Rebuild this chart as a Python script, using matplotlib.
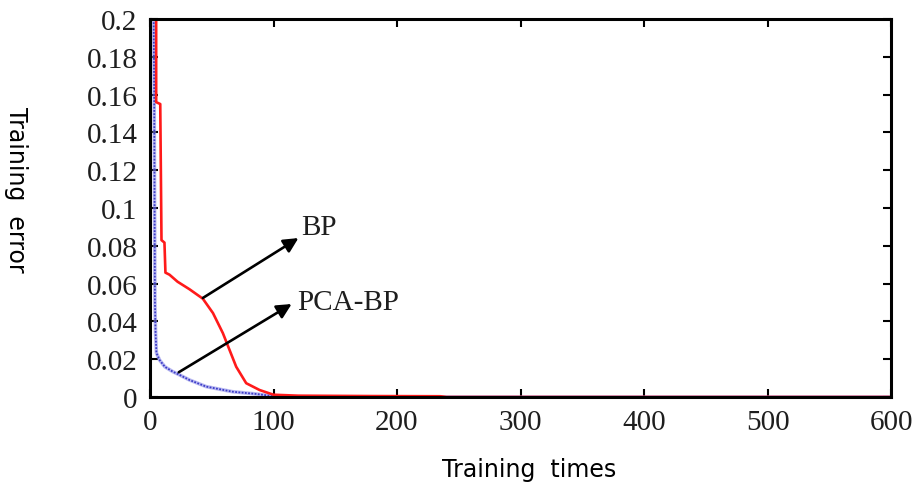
import matplotlib
matplotlib.use("Agg")
import matplotlib.pyplot as plt

# Training error curves
bp_x = [5, 5, 8.3, 9.3, 11.7, 12.5, 15.8, 22.3, 32, 42.8, 51, 59, 64.4,
        69.8, 77.9, 88.7, 100, 120, 180, 235, 240, 600]
bp_y = [0.2, 0.156, 0.155, 0.083, 0.0817, 0.0658, 0.0647, 0.061, 0.057,
        0.052, 0.0444, 0.0338, 0.0249, 0.016, 0.0073, 0.0037, 0.0012,
        0.0007, 0.0005, 0.0004, 0.0, 0.0]

pca_x = [3, 3.4, 3.7, 4.0, 4.5, 5.2, 7.7, 12, 18.5, 23.9, 32, 45.5, 66.8,
         86, 96.8, 105, 600]
pca_y = [0.2, 0.16, 0.1, 0.05, 0.034, 0.0233, 0.0196, 0.016, 0.0134,
         0.0117, 0.009, 0.0055, 0.0028, 0.0016, 0.0007, 0.0, 0.0]

x_ticks = [0, 100, 200, 300, 400, 500, 600]
y_ticks = [0, 0.02, 0.04, 0.06, 0.08, 0.1, 0.12, 0.14, 0.16, 0.18, 0.2]
y_tick_labels = ["0", "0.02", "0.04", "0.06", "0.08", "0.1", "0.12",
                 "0.14", "0.16", "0.18", "0.2"]

fig = plt.figure(figsize=(9.19, 4.89), dpi=100)
ax = fig.add_axes([150 / 919, 1 - 398 / 489, 741 / 919, 378 / 489])

ax.plot(pca_x, pca_y, color="#8c8ce8", lw=2.6, alpha=0.6)
ax.plot(pca_x, pca_y, color="#3c3cc8", lw=1.3, ls=(0, (1.0, 0.8)))
ax.plot(bp_x, bp_y, color="#ff1a1a", lw=1.9)

ax.set_xlim(0, 600)
ax.set_ylim(0, 0.2)
ax.set_xticks(x_ticks)
ax.set_yticks(y_ticks)
ax.set_yticklabels(y_tick_labels)

for lab in ax.get_xticklabels() + ax.get_yticklabels():
    lab.set_family("Liberation Serif")
    lab.set_fontsize(21)
    lab.set_color("#1e1e1e")

ax.tick_params(direction="in", length=6, width=1.5, top=True, right=True,
               pad=9)
for s in ax.spines.values():
    s.set_linewidth(2.2)

# arrows and labels
arrow = dict(arrowstyle="-|>", mutation_scale=22, lw=1.9, color="black",
             shrinkA=0, shrinkB=0)
ax.annotate("", xy=(120.2, 0.0841), xytext=(42.8, 0.0524), arrowprops=arrow)
ax.annotate("", xy=(114.7, 0.0492), xytext=(23.3, 0.0131), arrowprops=arrow)
ax.text(122.4, 0.09, "BP", family="Liberation Serif", fontsize=21,
        va="center", ha="left", color="#1e1e1e")
ax.text(119.4, 0.0503, "PCA-BP", family="Liberation Serif", fontsize=21,
        va="center", ha="left", color="#1e1e1e")

fig.text(529 / 919, 1 - 470 / 489, "Training  times", family="DejaVu Sans",
         fontsize=17, ha="center", va="center")
fig.text(16 / 919, 1 - 190 / 489, "Training  error", family="DejaVu Sans",
         fontsize=17, ha="center", va="center", rotation=270)

fig.savefig("out.png", dpi=100)
